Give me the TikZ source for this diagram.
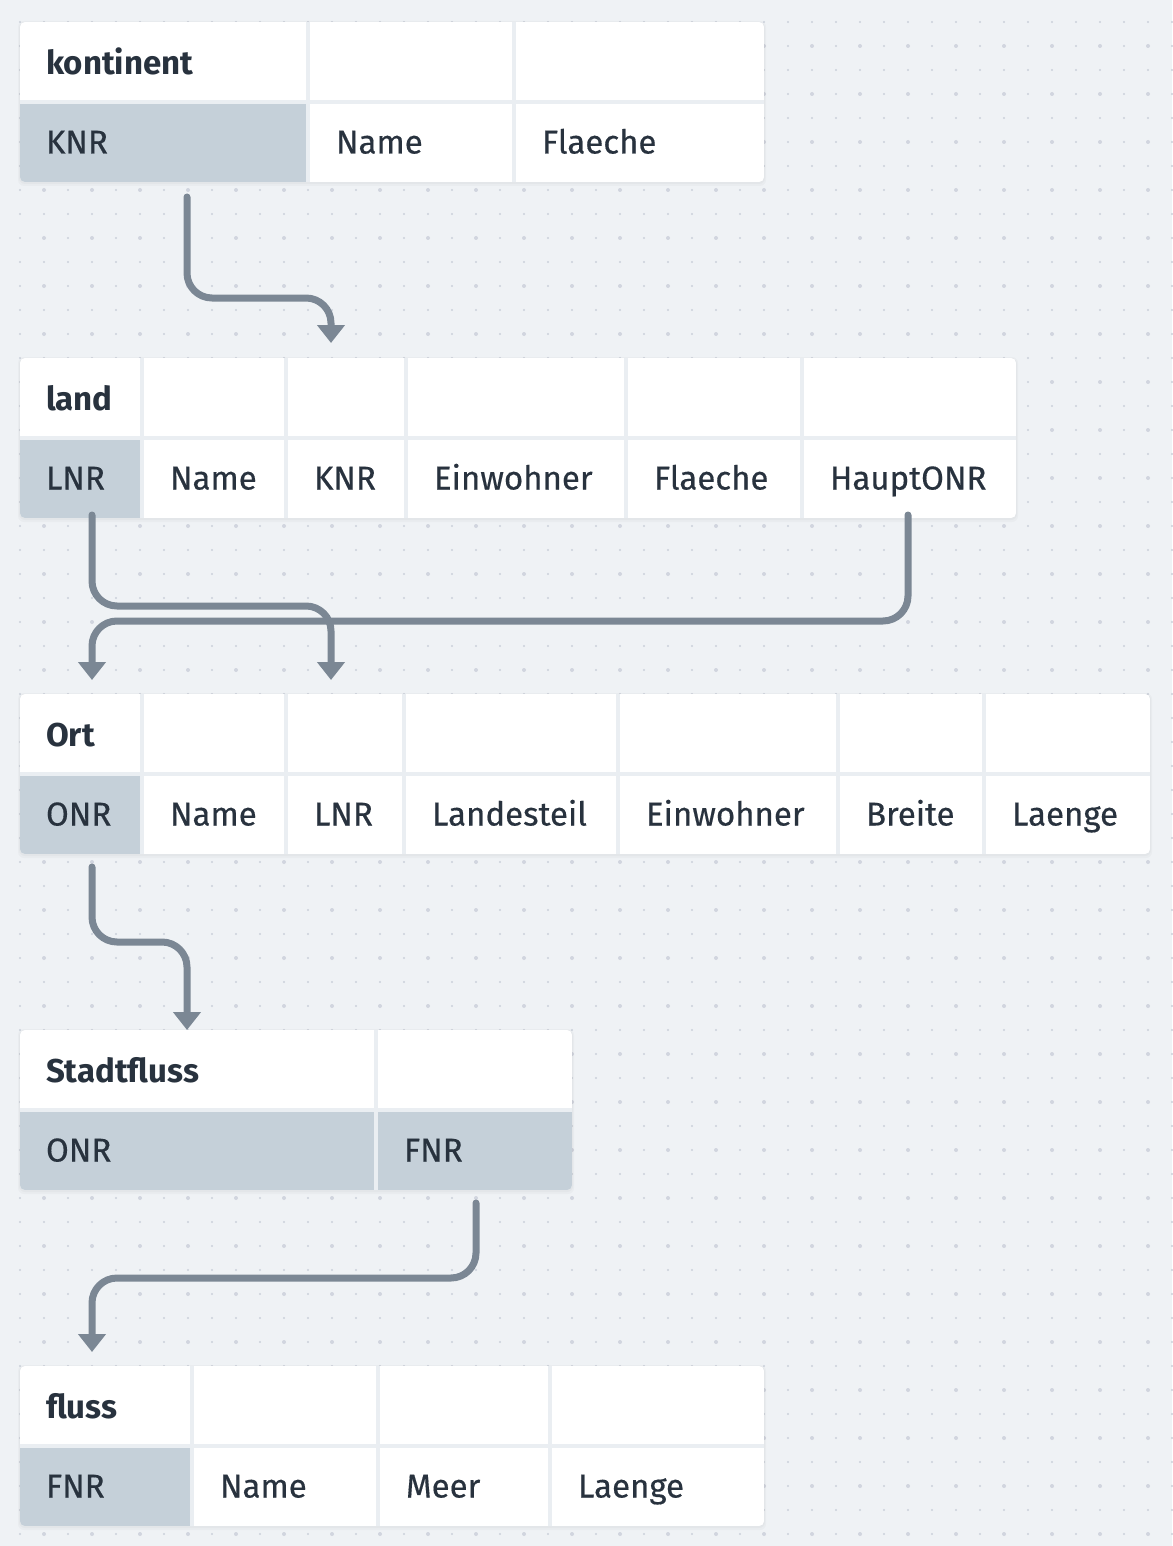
\documentclass[tikz,border=0pt]{standalone}
\usepackage{fontspec}
\setmainfont{Fira Sans}
\usetikzlibrary{arrows.meta,calc}
\definecolor{bgc}{HTML}{EFF2F5}
\definecolor{gapc}{HTML}{EAEEF2}
\definecolor{dots}{HTML}{CBD0DA}
\definecolor{dotb}{HTML}{D1D5DF}
\definecolor{keyc}{HTML}{C5D0D9}
\definecolor{txtc}{HTML}{28323E}
\definecolor{arrc}{HTML}{7B8794}
\tikzset{
  cellbox/.style={anchor=north west, inner sep=0pt, outer sep=0pt, minimum height=78pt, draw=none},
  celltxt/.style={anchor=base west, inner sep=0pt, outer sep=0pt, text=txtc, font=\fontsize{33}{40}\selectfont\addfontfeature{FakeBold=0.4}},
  titletxt/.style={anchor=base west, inner sep=0pt, outer sep=0pt, text=txtc, font=\fontsize{33}{40}\selectfont\bfseries},
  fk/.style={draw=arrc, line width=7pt, rounded corners=25pt, line cap=round, -{Triangle[width=27pt,length=18pt]}},
}
% #1 prefix, #2 top y, #3 right edge, #4 title, #5 list l/r/text/key
\newcommand\dbtable[5]{%
  \fill[black, opacity=0.025, rounded corners=6pt] (18,#2-1) rectangle (#3+2,#2+164);
  \fill[black, opacity=0.025, rounded corners=6pt] (19,#2) rectangle (#3+1,#2+162);
  \begin{scope}
    \clip[rounded corners=5pt] (20,#2) rectangle (#3,#2+160);
    \fill[gapc] (20,#2) rectangle (#3,#2+160);
    \foreach \l/\r/\t/\k [count=\i] in {#5} {
      \pgfmathsetmacro\w{\r-\l}
      \pgfmathsetmacro\dy{#2+82}
      \ifnum\k=1 \def\fc{keyc}\else\def\fc{white}\fi
      \node[cellbox, fill=white, minimum width=\w pt] (#1h\i) at (\l,#2) {};
      \node[cellbox, fill=\fc, minimum width=\w pt] (#1d\i) at (\l,\dy) {};
      \node[celltxt] (#1t\i) at ($(#1d\i.north west)+(26,49.5)$) {\t};
    }
  \end{scope}
  \node[titletxt] (#1title) at ($(#1h1.north west)+(26,52.5)$) {#4};
}
\begin{document}
\begin{tikzpicture}[x=1pt,y=-1pt]
\useasboundingbox (0,0) rectangle (1172,1546);
\fill[bgc] (0,0) rectangle (1172,1546);
\foreach \x in {20,44,...,1172} \foreach \y in {22,46,...,1546} {\fill[dots] (\x,\y) circle[radius=1.1pt];}
\foreach \x in {44,92,...,1172} \foreach \y in {46,94,...,1546} {\fill[dotb] (\x,\y) circle[radius=2pt];}

\dbtable{k}{22}{764}{kontinent}{20/306/KNR/1, 310/512/Name/0, 516/764/Flaeche/0}
\dbtable{l}{358}{1016}{land}{20/140/LNR/1, 144/284/Name/0, 288/404/KNR/0, 408/624/Einwohner/0, 628/800/Flaeche/0, 804/1016/HauptONR/0}
\dbtable{o}{694}{1150}{Ort}{20/140/ONR/1, 144/284/Name/0, 288/402/LNR/0, 406/616/Landesteil/0, 620/836/Einwohner/0, 840/982/Breite/0, 986/1150/Laenge/0}
\dbtable{s}{1030}{572}{Stadtfluss}{20/374/ONR/1, 378/572/FNR/1}
\dbtable{f}{1366}{764}{fluss}{20/190/FNR/1, 194/376/Name/0, 380/548/Meer/0, 552/764/Laenge/0}

% connectors
\coordinate (a1s) at ($(kd1.south west)+(167,15)$);
\coordinate (a1e) at ($(lh3.north west)+(43,-15)$);
\draw[fk] (a1s) -- ++(0,101) -| (a1e);

\coordinate (a3s) at ($(ld6.south west)+(104,-3)$);
\coordinate (a3e) at ($(oh1.north west)+(72,-14)$);
\draw[fk] (a3s) -- ++(0,106) -| (a3e);

\coordinate (a2s) at ($(ld1.south west)+(72,-3)$);
\coordinate (a2e) at ($(oh3.north west)+(43,-14)$);
\draw[fk] (a2s) -- ++(0,91) -| (a2e);

\coordinate (a4s) at ($(od1.south west)+(72,13)$);
\coordinate (a4e) at ($(sh1.north west)+(167,0)$);
\draw[fk] (a4s) -- ++(0,75) -| (a4e);

\coordinate (a5s) at ($(sd2.south west)+(98,13)$);
\coordinate (a5e) at ($(fh1.north west)+(72,-14)$);
\draw[fk] (a5s) -- ++(0,75) -| (a5e);
\end{tikzpicture}
\end{document}
